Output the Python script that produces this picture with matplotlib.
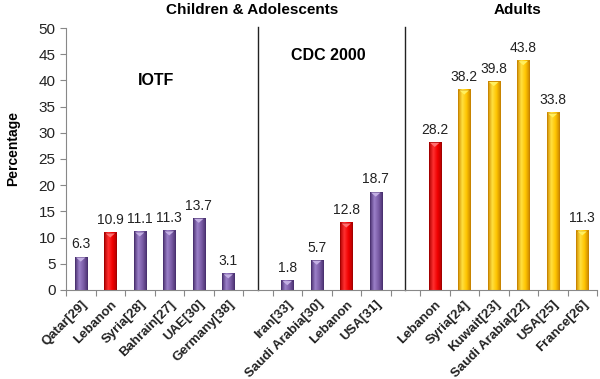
import matplotlib.pyplot as plt
import numpy as np
from matplotlib.colors import LinearSegmentedColormap

plt.rcParams['font.family'] = ['Liberation Sans', 'DejaVu Sans']

# Categories (empty strings are gaps between groups)
labels = ['Qatar[29]', 'Lebanon', 'Syria[28]', 'Bahrain[27]', 'UAE[30]', 'Germany[38]', '',
          'Iran[33]', 'Saudi Arabia[30]', 'Lebanon', 'USA[31]', '',
          'Lebanon', 'Syria[24]', 'Kuwait[23]', 'Saudi Arabia[22]', 'USA[25]', 'France[26]']
values = [6.3, 10.9, 11.1, 11.3, 13.7, 3.1, None,
          1.8, 5.7, 12.8, 18.7, None,
          28.2, 38.2, 39.8, 43.8, 33.8, 11.3]
kinds = ['p', 'r', 'p', 'p', 'p', 'p', None,
         'p', 'p', 'r', 'p', None,
         'r', 'y', 'y', 'y', 'y', 'y']

# dark edge -> light -> mid -> dark edge, for a rounded look
grad = {'p': ['#4a3170', '#9b80c8', '#7a5ca6', '#4a3170'],
        'r': ['#b00000', '#ff3030', '#f00000', '#b00000'],
        'y': ['#d08c00', '#ffe040', '#ffc400', '#c88400']}
edge = {'p': '#4a3170', 'r': '#a00000', 'y': '#c88400'}
cap = {'p': '#c4b0e4', 'r': '#ff7070', 'y': '#fff060'}

fig = plt.figure(figsize=(6, 3.79), dpi=100)
ax = fig.add_axes([0.11, 0.235, 0.885, 0.691])

x = np.arange(len(labels))
w = 0.42
ramp = np.linspace(0, 1, 64).reshape(1, -1)
for i, (v, k) in enumerate(zip(values, kinds)):
    if v is None:
        continue
    cmap = LinearSegmentedColormap.from_list(k, grad[k])
    ax.imshow(ramp, cmap=cmap, extent=[i - w / 2, i + w / 2, 0, v], aspect='auto', zorder=2)
    ax.bar(i, v, width=w, fill=False, edgecolor=edge[k], linewidth=0.6, zorder=3)
    # lighter cap to mimic the bevelled top
    ax.fill([i - w / 2 + 0.05, i + w / 2 - 0.05, i], [v - 0.1, v - 0.1, v - 0.9],
            color=cap[k], zorder=4, lw=0)
    ax.text(i, v + 2.4, f'{v:.1f}', ha='center', va='center', fontsize=10, color='#222222')

# group separators
for i, v in enumerate(values):
    if v is None:
        ax.plot([i, i], [0, 50.2], color='#222222', lw=1, zorder=1, clip_on=False)

ax.set_xlim(-0.5, len(labels) - 0.5)
ax.set_ylim(0, 50)
ax.set_yticks(np.arange(0, 51, 5))
ax.set_xticks(np.arange(-0.5, len(labels), 1))
ax.set_xticklabels([])
ax.set_xticks(x, minor=True)
ax.set_xticklabels(labels, minor=True, rotation=45, ha='right', rotation_mode='anchor',
                   fontsize=9.5, fontweight='bold', color='#222222')
ax.tick_params(axis='x', which='minor', length=0, pad=6)
ax.tick_params(axis='x', which='major', length=4, color='#888888')
ax.tick_params(axis='y', length=4, color='#888888', labelsize=11, labelcolor='#222222')

for s in ['top', 'right']:
    ax.spines[s].set_visible(False)
ax.spines['left'].set_color('#888888')
ax.spines['bottom'].set_color('#888888')

ax.set_ylabel('Percentage', fontsize=10, fontweight='bold')
ax.yaxis.set_label_coords(-0.087, 0.54)

fig.text(0.42, 0.973, 'Children & Adolescents', ha='center', va='center',
         fontsize=11, fontweight='bold')
fig.text(0.862, 0.973, 'Adults', ha='center', va='center', fontsize=11, fontweight='bold')
ax.text(2.55, 40, 'IOTF', ha='center', va='center', fontsize=11.5, fontweight='bold')
ax.text(8.4, 44.7, 'CDC 2000', ha='center', va='center', fontsize=11.5, fontweight='bold')

fig.savefig('out.png', dpi=100)
